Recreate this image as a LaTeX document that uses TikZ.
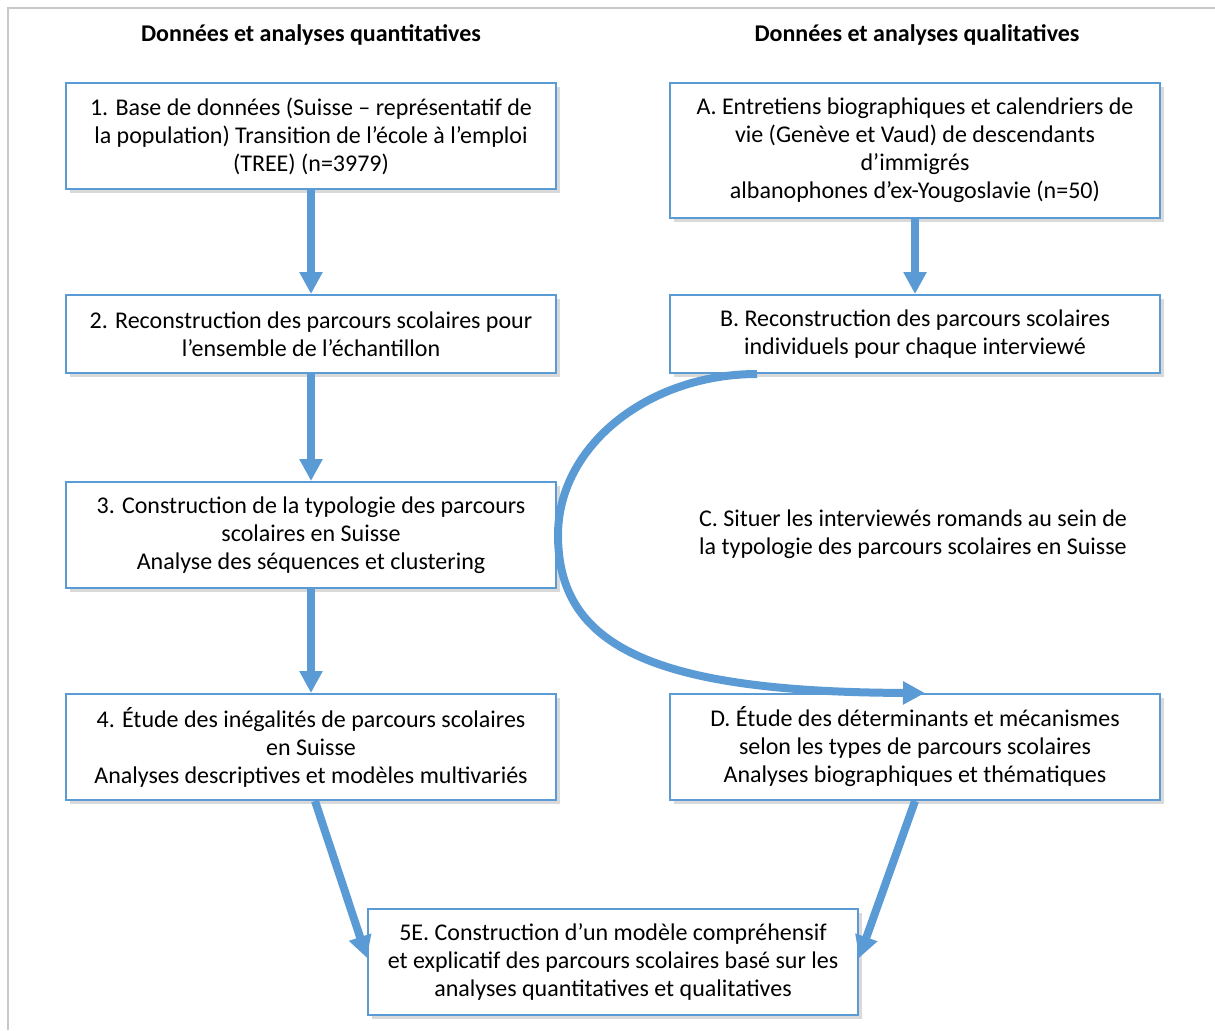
\documentclass[tikz,border=0pt]{standalone}
\usepackage{fontspec}
\setmainfont{Carlito}
\usetikzlibrary{arrows.meta,shadows}
\definecolor{boxblue}{HTML}{5B9BD5}
\definecolor{framegray}{HTML}{C8C8C8}

\begin{document}
\begin{tikzpicture}[x=0.5pt,y=-0.5pt,
  box/.style={draw=boxblue,line width=1pt,fill=white,align=center,minimum width=245pt,inner sep=0pt,
    font=\fontsize{12}{14}\selectfont,drop shadow={shadow xshift=2pt,shadow yshift=-2pt,opacity=0.3}},
  flow/.style={draw=boxblue,line width=4pt,-{Triangle[width=11pt,length=11pt]}},
  head/.style={font=\bfseries\fontsize{12}{14}\selectfont}]
\useasboundingbox (0,0) rectangle (1215,1030);
% frame, only the left and top sides show
\draw[framegray,line width=1pt] (8,1030) |- (1215,8);

\node[head] (hquant) at (311,35) {Données et analyses quantitatives};
\node[head] (hqual) at (917,35) {Données et analyses qualitatives};

\node[box,minimum height=53pt] (n1) at (311,136) {1. Base de données (Suisse – représentatif de\\la population) Transition de l’école à l’emploi\\(TREE) (n=3979)};
\node[box,minimum height=39pt] (n2) at (311,334) {2. Reconstruction des parcours scolaires pour\\l’ensemble de l’échantillon};
\node[box,minimum height=53pt] (n3) at (311,535) {3. Construction de la typologie des parcours\\scolaires en Suisse\\Analyse des séquences et clustering};
\node[box,minimum height=53pt] (n4) at (311,747) {4. Étude des inégalités de parcours scolaires\\en Suisse\\Analyses descriptives et modèles multivariés};

\node[box,minimum height=67.5pt] (nA) at (915,150.5) {A. Entretiens biographiques et calendriers de\\vie (Genève et Vaud) de descendants\\d’immigrés\\albanophones d’ex-Yougoslavie (n=50)};
\node[box,minimum height=39pt] (nB) at (915,334) {B. Reconstruction des parcours scolaires\\individuels pour chaque interviewé};
\node[align=center,font=\fontsize{12}{14}\selectfont] (nC) at (913,534) {C. Situer les interviewés romands au sein de\\la typologie des parcours scolaires en Suisse};
\node[box,minimum height=53pt] (nD) at (915,747) {D. Étude des déterminants et mécanismes\\selon les types de parcours scolaires\\Analyses biographiques et thématiques};

\node[box,minimum height=53pt] (nE) at (613,962) {5E. Construction d’un modèle compréhensif\\et explicatif des parcours scolaires basé sur les\\analyses quantitatives et qualitatives};

\draw[flow] (n1) -- (n2);
\draw[flow] (n2) -- (n3);
\draw[flow] (n3) -- (n4);
\draw[flow] (nA) -- (nB);
\draw[flow] ([xshift=2pt]n4.south) -- ([yshift=2pt]nE.west);
\draw[flow] (nD.south) -- ([yshift=2pt]nE.east);
\draw[flow] ([xshift=-79pt]nB.south) .. controls (648,374) and (558,446) .. (558,535)
  .. controls (558,645) and (650,692) .. ([xshift=5pt]nD.north);
\end{tikzpicture}
\end{document}
